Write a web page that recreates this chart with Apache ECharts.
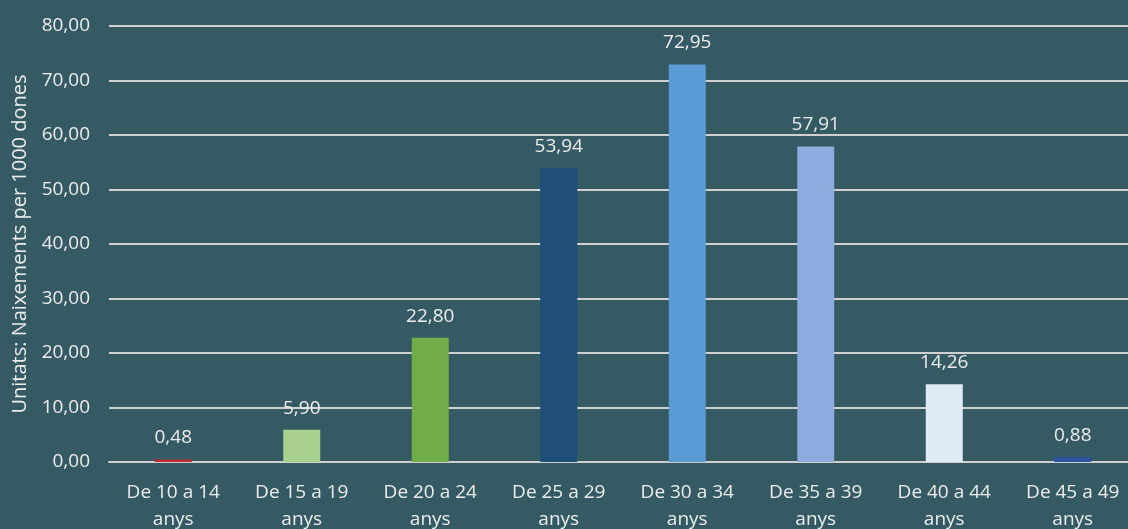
<!DOCTYPE html>
<html>
<head>
<meta charset="utf-8">
<script src="https://cdn.jsdelivr.net/npm/echarts@6/dist/echarts.min.js"></script>
<style>
html,body{margin:0;padding:0;background:#355a64;}
#c{width:1128px;height:529px;}
</style>
</head>
<body>
<div id="c"></div>
<script>
const categories = ["De 10 a 14\nanys","De 15 a 19\nanys","De 20 a 24\nanys","De 25 a 29\nanys","De 30 a 34\nanys","De 35 a 39\nanys","De 40 a 44\nanys","De 45 a 49\nanys"];
const values = [0.48, 5.90, 22.80, 53.94, 72.95, 57.91, 14.26, 0.88];
const barColors = ["#c0282d","#a9d18e","#70ad47","#1f4e79","#5b9bd5","#8faadc","#deebf7","#2f55a4"];
const yTitle = "Unitats: Naixements per 1000 dones";

const fmt = v => v.toFixed(2).replace('.', ',');
const font = "'Open Sans', 'Noto Sans', sans-serif";
const chart = echarts.init(document.getElementById('c'));
chart.setOption({
  backgroundColor: '#355a64',
  animation: false,
  grid: {left: 109, right: -9, top: 26, bottom: 67, containLabel: false, outerBoundsMode: 'none'},
  xAxis: {
    type: 'category',
    data: categories,
    axisLine: {show: true, lineStyle: {color: '#d0d0d0', width: 2}},
    axisTick: {show: false},
    axisLabel: {color: '#ececec', fontSize: 19, fontFamily: font, lineHeight: 27, margin: 17}
  },
  yAxis: {
    type: 'value',
    min: 0, max: 80, interval: 10,
    name: yTitle,
    nameLocation: 'middle',
    nameGap: 79,
    nameTextStyle: {color: '#ececec', fontSize: 20, fontFamily: font},
    axisLine: {show: false},
    axisTick: {show: false},
    splitLine: {lineStyle: {color: '#d0d0d0', width: 2}},
    axisLabel: {color: '#ececec', fontSize: 19, fontFamily: font, margin: 19, formatter: v => fmt(v)}
  },
  series: [{
    type: 'bar',
    barWidth: 37,
    data: values.map((v, i) => ({value: v, itemStyle: {color: barColors[i]}})),
    label: {show: true, position: 'top', distance: 12, color: '#ececec', fontSize: 19, fontFamily: font, formatter: p => fmt(p.value)}
  }]
});
</script>
</body>
</html>
